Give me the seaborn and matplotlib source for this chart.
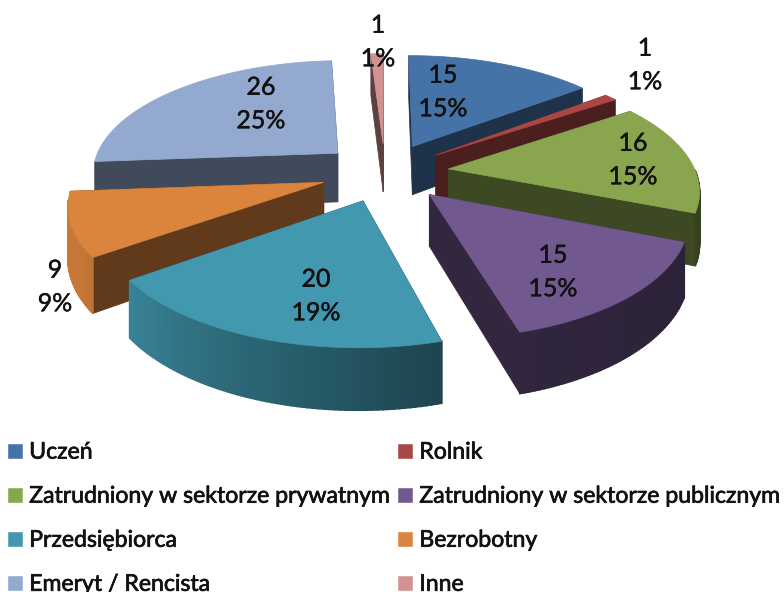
import numpy as np
import matplotlib
matplotlib.use("Agg")
import matplotlib.pyplot as plt
from matplotlib.lines import Line2D
from matplotlib.patches import Polygon
import matplotlib.patheffects as pe
import seaborn as sns

# data
categories = ["Uczeń", "Rolnik", "Zatrudniony w sektorze prywatnym", "Zatrudniony w sektorze publicznym",
              "Przedsiębiorca", "Bezrobotny", "Emeryt / Rencista", "Inne"]
values = [15, 1, 16, 15, 20, 9, 26, 1]
percents = [15, 1, 15, 15, 19, 9, 25, 1]
colors = ["#4572A7", "#AA4643", "#89A54E", "#71588F", "#4198AF", "#DB843D", "#93A9CF", "#D19392"]

# label centres in pixels
label_pos = [(443, 92), (645, 65), (633, 160), (553, 272), (316, 296), (55, 287), (261, 104), (378, 42)]

# fake 3d settings
CX, CY = 385, 172
RX, RY = 247, 113
PERSP = 0.16
EXPLODE = 0.26
HEIGHT = 50
PAINT_ORDER = [6, 7, 0, 1, 2, 5, 3, 4]

sns.set_theme(style="white")
plt.rcParams["font.family"] = ["Lato", "DejaVu Sans"]
palette = sns.color_palette(colors)


def project(u, v, down=0.0):
    f = 1 / (1 + PERSP * v)
    return CX + RX * u * f, CY - RY * v * f + HEIGHT * down * f


def shade(color, k):
    return tuple(c * k for c in color)


def rim_shade(deg):
    # light on the left of the front, dark on the right
    return float(np.interp(deg, [90, 160, 240, 270], [0.38, 0.42, 0.9, 0.92]))


fig = plt.figure(figsize=(7.84, 5.92), dpi=100)
ax = fig.add_axes([0, 0, 1, 1])
ax.set_xlim(0, 784)
ax.set_ylim(592, 0)
ax.axis("off")

total = sum(values)
edges = np.cumsum([0] + values) / total * 360


def draw_wedge(i, z):
    a0, a1 = edges[i], edges[i + 1]
    mid = np.radians((a0 + a1) / 2)
    ox, oy = EXPLODE * np.sin(mid), EXPLODE * np.cos(mid)
    arc = np.radians(np.linspace(a0, a1, max(int(a1 - a0), 2) + 1))
    us = ox + np.sin(arc)
    vs = oy + np.cos(arc)
    base = palette[i]

    # cut faces
    side = shade(base, 0.44)
    for (u, v) in [(us[0], vs[0]), (us[-1], vs[-1])]:
        quad = [project(ox, oy), project(u, v), project(u, v, 1), project(ox, oy, 1)]
        ax.add_patch(Polygon(quad, closed=True, fc=side, ec=side, lw=0.5, zorder=z))

    # outer rim, only the part turned to the viewer
    for j in range(len(arc) - 1):
        deg = np.degrees((arc[j] + arc[j + 1]) / 2)
        if not 90 <= deg <= 262:
            continue
        col = shade(base, rim_shade(deg))
        quad = [project(us[j], vs[j]), project(us[j + 1], vs[j + 1]),
                project(us[j + 1], vs[j + 1], 1), project(us[j], vs[j], 1)]
        ax.add_patch(Polygon(quad, closed=True, fc=col, ec=col, lw=1.2, zorder=z + 0.1))

    # top
    pts = [project(ox, oy)] + [project(u, v) for u, v in zip(us, vs)]
    ax.add_patch(Polygon(pts, closed=True, fc=base, ec=base, lw=0.5, zorder=z + 0.5))


for z, i in enumerate(PAINT_ORDER):
    draw_wedge(i, z)

for (x, y), val, pct in zip(label_pos, values, percents):
    ax.text(x, y, f"{val}\n{pct}%", ha="center", va="center", fontsize=18, color="#111111",
            linespacing=1.55, zorder=20, path_effects=[pe.withStroke(linewidth=0.3, foreground="#111111")])

# legend fills by column, the reference reads by row
handles = [Line2D([], [], ls="", marker="s", ms=10, mfc=c, mec=c, mew=0.4) for c in palette]
order = [0, 2, 4, 6, 1, 3, 5, 7]
leg = ax.legend([handles[i] for i in order], [categories[i] for i in order], ncol=2, loc="upper left",
                bbox_to_anchor=(0.004, 0.254), frameon=False, fontsize=16.6, handlelength=1.0,
                handletextpad=0.13, labelspacing=1.0, columnspacing=0.15, borderpad=0, borderaxespad=0)
for t in leg.get_texts():
    t.set_color("#111111")
    t.set_path_effects([pe.withStroke(linewidth=0.5, foreground="#111111")])

fig.savefig("out.png", dpi=100)
